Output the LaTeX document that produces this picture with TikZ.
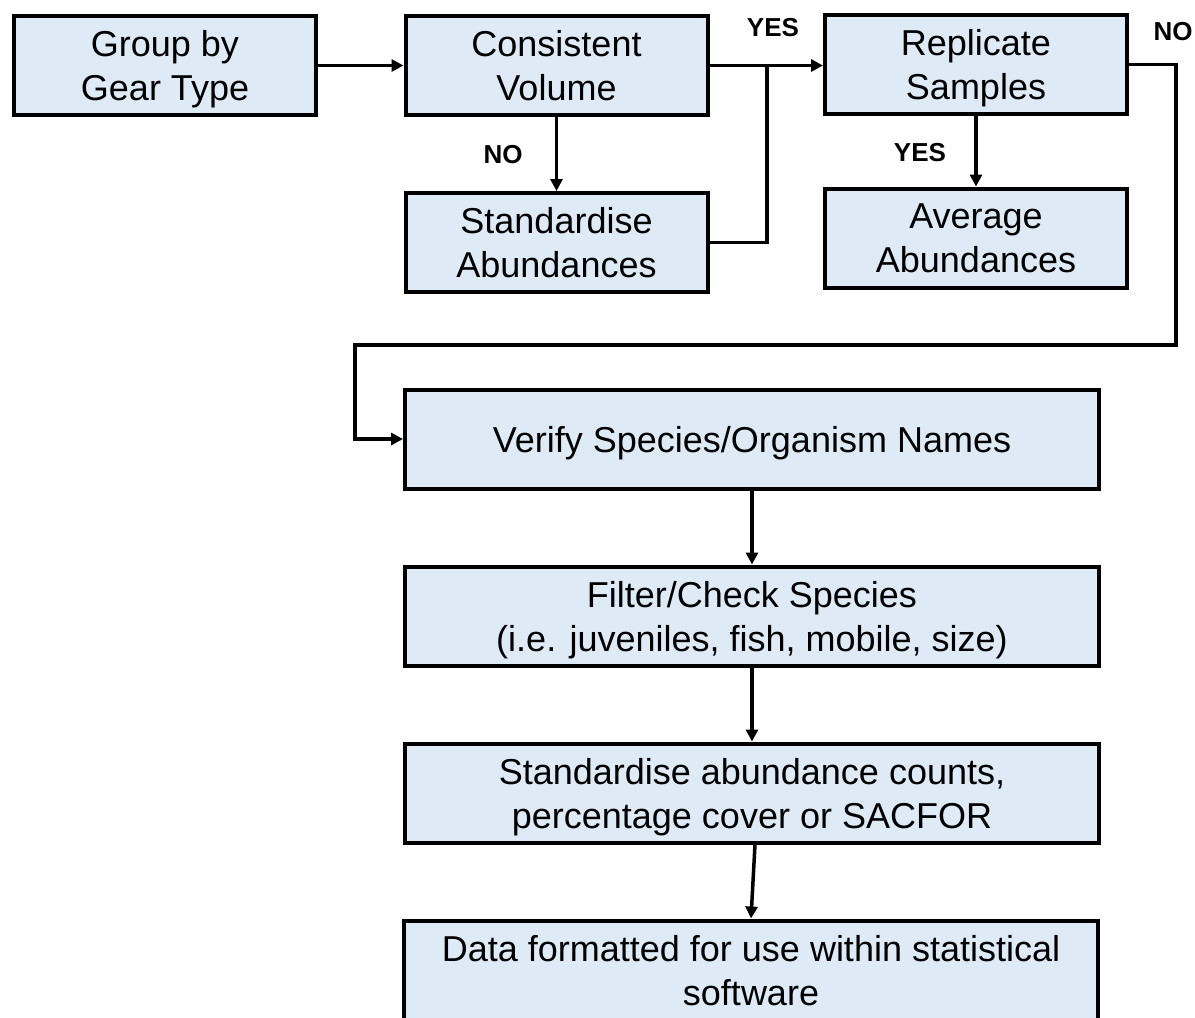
\documentclass[tikz,border=0pt]{standalone}
\usepackage{fontspec}
\setmainfont{Liberation Sans}
\usetikzlibrary{arrows.meta}
\definecolor{boxblue}{RGB}{222,235,247}
\tikzset{
    stepbox/.style={line width=2pt, draw=black, fill=boxblue, align=center,
        font=\fontsize{18pt}{22pt}\selectfont, inner sep=0pt, text depth=0pt},
    smallbox/.style={stepbox, minimum width=151pt, minimum height=49.5pt},
    widebox/.style={stepbox, minimum width=347pt, minimum height=49.5pt},
    answer/.style={font=\fontsize{13pt}{15pt}\selectfont\bfseries},
    arr/.style={line width=1.75pt, -{Triangle[length=6pt,width=6pt]}},
}
\begin{document}
\begin{tikzpicture}[x=0.5pt, y=-0.5pt]
    \newcommand\colA{165}
    \newcommand\colB{556.5}
    \newcommand\colC{976}
    \newcommand\colW{752}

    \useasboundingbox (0,0) rectangle (1195,1018);

    \node[smallbox] (grp) at (\colA, 65.5){Group by\\Gear Type};
    \node[smallbox] (cons) at (\colB, 65.5){Consistent\\Volume};
    \node[smallbox] (stdab) at (\colB, 242.5){Standardise\\Abundances};
    \node[smallbox] (repl) at (\colC, 64.5){Replicate\\Samples};
    \node[smallbox] (avg) at (\colC, 238){Average\\Abundances};

    \node[widebox] (verify) at (\colW, 439){Verify Species/Organism Names};
    \node[widebox] (filter) at (\colW, 616){Filter/Check Species\\(i.e. juveniles, fish, mobile, size)};
    \node[widebox] (stdcnt) at (\colW, 793){Standardise abundance counts,\\percentage cover or SACFOR};
    \node[widebox] (data) at (751, 970){Data formatted for use within statistical\\software};

    \coordinate (join) at (767, 65.5);
    \coordinate (loopR) at (1176, 345);
    \coordinate (loopL) at (355, 345);

    \draw[arr] (grp) -- (cons);
    \draw[arr] (cons.east) -- (cons.east -| repl.west);
    \draw[line width=1.75pt] (stdab.east) -| (join);
    \draw[arr] (cons) -- (stdab);
    \draw[arr] (repl) -- (avg);
    \draw[arr] (repl.east) -| (loopR) -- (loopL) |- (verify.west);
    \draw[arr] (verify) -- (filter);
    \draw[arr] (filter) -- (stdcnt);
    \draw[arr] (stdcnt.south) ++(3,0) -- (data.north);

    \node[answer] (yes1) at (773, 28){YES};
    \node[answer] (no1) at (503, 155){NO};
    \node[answer] (yes2) at (920, 153){YES};
    \node[answer] (no2) at (1173, 32){NO};
\end{tikzpicture}
\end{document}
